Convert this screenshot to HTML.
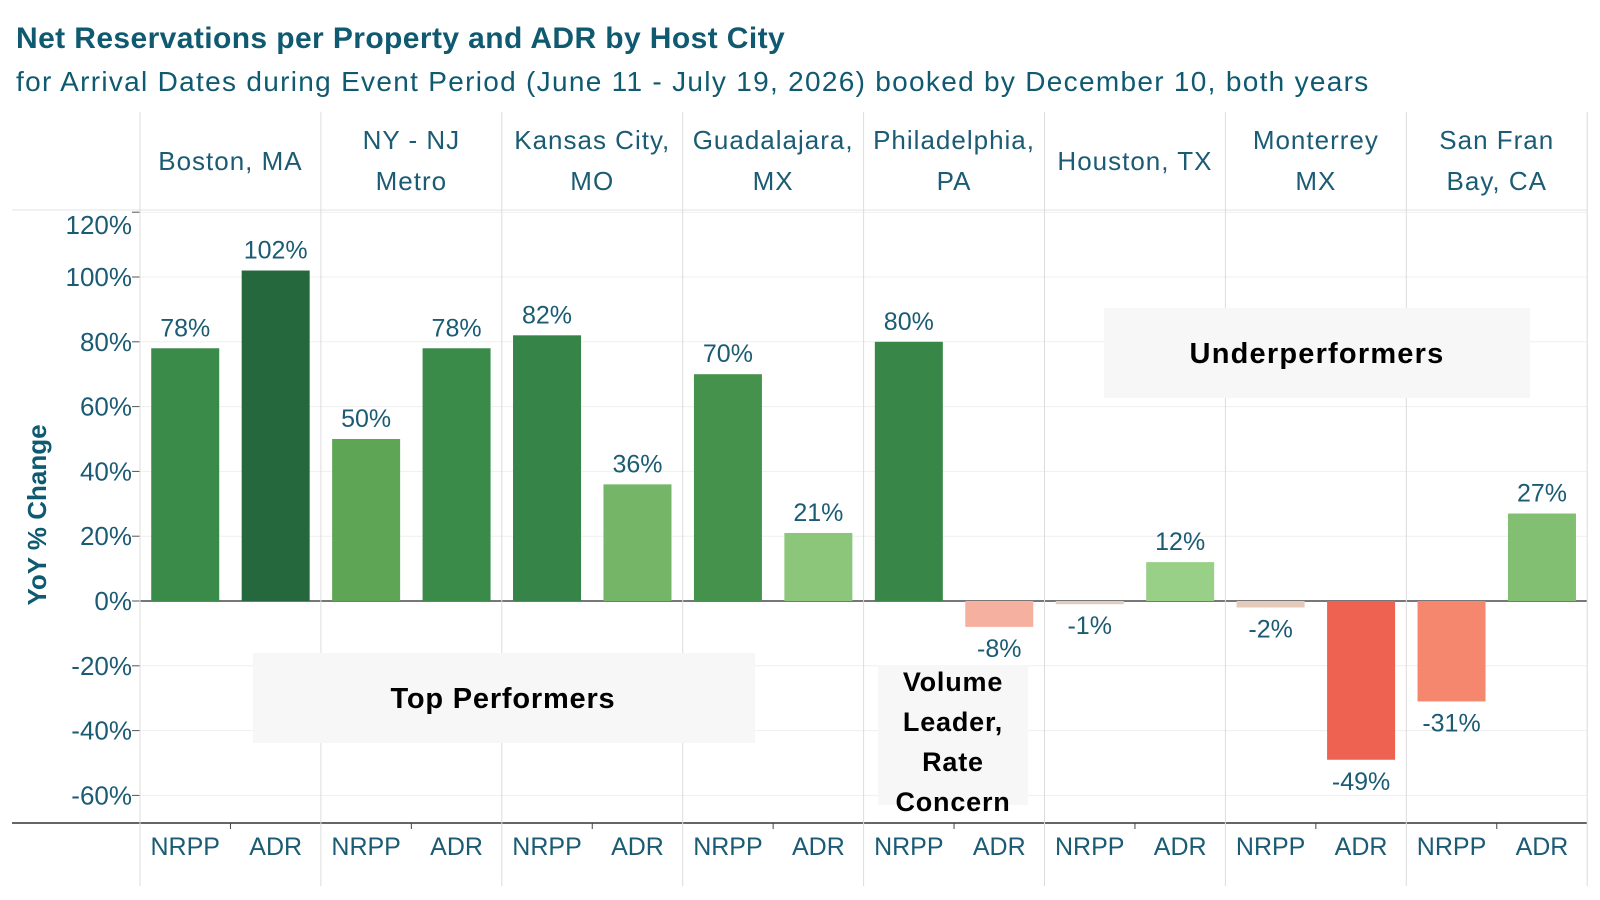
<!DOCTYPE html>
<html><head><meta charset="utf-8"><style>
html,body{margin:0;padding:0;background:#fff;}
svg{display:block;font-family:"Liberation Sans",sans-serif;}
</style></head><body>
<svg id="chart" width="1600" height="900" viewBox="0 0 1600 900">
<text x="16" y="48" font-size="30" font-weight="bold" letter-spacing="0.4" fill="#0f5a70">Net Reservations per Property and ADR by Host City</text>
<text x="16" y="91" font-size="28" letter-spacing="1.3" fill="#0f5a70">for Arrival Dates during Event Period (June 11 - July 19, 2026) booked by December 10, both years</text>
<g id="grid"></g>
<rect x="253" y="653" width="502" height="90" fill="#f7f7f7"/>
<text x="503" y="708" font-size="29" font-weight="bold" letter-spacing="0.8" text-anchor="middle" fill="#000">Top Performers</text>
<rect x="1104" y="308" width="426" height="90" fill="#f7f7f7"/>
<text x="1317" y="363" font-size="29" font-weight="bold" letter-spacing="1.2" text-anchor="middle" fill="#000">Underperformers</text>
<rect x="878" y="665" width="150" height="140" fill="#f7f7f7"/>
<g id="bars"></g>
<g font-size="27" font-weight="bold" letter-spacing="0.8" text-anchor="middle" fill="#000">
<text x="953" y="691">Volume</text><text x="953" y="731">Leader,</text><text x="953" y="771">Rate</text><text x="953" y="811">Concern</text>
</g>
<text transform="translate(46,515) rotate(-90)" font-size="26" font-weight="bold" text-anchor="middle" fill="#0f5a70">YoY % Change</text>
</svg>
<script>
const cities = [["Boston, MA"],["NY - NJ","Metro"],["Kansas City,","MO"],["Guadalajara,","MX"],["Philadelphia,","PA"],["Houston, TX"],["Monterrey","MX"],["San Fran","Bay, CA"]];
const measures = ["NRPP","ADR"];
const nrpp = [78,50,82,70,80,-1,-2,-31];
const adr = [102,78,36,21,-8,12,-49,27];
const ticks = [-60,-40,-20,0,20,40,60,80,100,120];

const NS="http://www.w3.org/2000/svg";
const x0=140, cellW=180.9, y0=601, pxPer=3.24, plotTop=210, axisY=823, frameBot=886;
const yS=v=>y0-v*pxPer;
const txtC="#1b5b73";
function mk(tag,attrs,parent,text){const e=document.createElementNS(NS,tag);for(const k in attrs)e.setAttribute(k,attrs[k]);if(text!==undefined)e.textContent=text;parent.appendChild(e);return e;}
function lerp(a,b,t){return a.map((v,i)=>Math.round(v+(b[i]-v)*t));}
const posStops=[[0,[170,222,150]],[50,[95,165,86]],[78,[58,138,74]],[102,[37,104,61]]];
const negStops=[[0,[220,210,195]],[8,[246,176,160]],[31,[245,135,110]],[49,[238,98,82]]];
function scale(stops,v){
  for(let i=1;i<stops.length;i++){if(v<=stops[i][0]){const t=(v-stops[i-1][0])/(stops[i][0]-stops[i-1][0]);return lerp(stops[i-1][1],stops[i][1],t);}}
  return stops[stops.length-1][1];
}
function color(v){return `rgb(${v>=0?scale(posStops,v):scale(negStops,-v)})`;}
const g=document.getElementById('grid');
ticks.forEach(t=>{
  const y=yS(t);
  const l=mk('line',{x1:x0,x2:1587,y1:y,y2:y,stroke:t===0?'#777':'#efefef','stroke-width':t===0?2:1},g);
  
  
  mk('line',{x1:x0-8,x2:x0,y1:y,y2:y,stroke:'#555'},g);
  const ly=t===ticks[ticks.length-1]?y+22:y+9;
  const tx=mk('text',{x:x0-8,y:ly,'font-size':26,'text-anchor':'end',fill:txtC},g,t+'%');
  
  
});
mk('line',{x1:12,x2:1587,y1:210,y2:210,stroke:'#e3e3e3'},g);
mk('line',{x1:12,x2:1587,y1:axisY,y2:axisY,stroke:'#666','stroke-width':2},g);
mk('line',{x1:x0,x2:x0,y1:plotTop,y2:axisY,stroke:'#666'},g);
for(let i=0;i<=8;i++){
  const x=x0+i*cellW;
  mk('line',{x1:x,x2:x,y1:112,y2:frameBot,stroke:'#dcdcdc'},g);
}
const b=document.getElementById('bars');
cities.forEach((c,i)=>{
  const cx=x0+(i+0.5)*cellW;
  const ct=mk('text',{x:cx,'font-size':26,'letter-spacing':1,'text-anchor':'middle',fill:txtC},g);
  
  
  if(c.length===1){mk('tspan',{x:cx,y:170},ct,c[0]);}
  else{mk('tspan',{x:cx,y:149},ct,c[0]);mk('tspan',{x:cx,y:190},ct,c[1]);}
  mk('line',{x1:cx,x2:cx,y1:axisY,y2:axisY+6,stroke:'#444'},g);
  [nrpp[i],adr[i]].forEach((v,j)=>{
    const bx=x0+i*cellW+(j+0.5)*cellW/2;
    const w=68;
    const top=Math.min(yS(v),yS(0)), h=Math.max(Math.abs(yS(v)-yS(0)),2);
    const r=mk('rect',{x:bx-w/2,y:top,width:w,height:h,fill:color(v)},b);
    
    
    const ly=v>=0?yS(v)-12:yS(v)+30;
    const lt=mk('text',{x:bx,y:ly,'font-size':25,'text-anchor':'middle',fill:txtC},b,v+'%');
    
    
    const mt=mk('text',{x:bx,y:855,'font-size':25,'text-anchor':'middle',fill:txtC},b,measures[j]);
    
    
  });
});
</script>
</body></html>
